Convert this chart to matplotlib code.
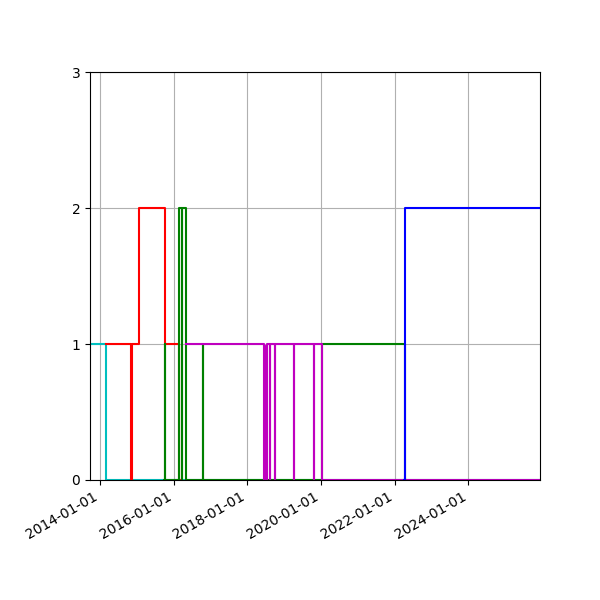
import pandas as pd
import matplotlib.pyplot as plt
import matplotlib.dates as mdates

cyan_t = ['2013-09-01', '2014-03-01', '2026-01-01']
cyan_v = [1, 0, 0]

red_t = ['2014-03-01', '2014-11-04', '2014-11-10', '2015-01-23', '2015-10-07', '2016-02-23', '2016-03-01']
red_v = [1, 0, 1, 2, 1, 0, 0]

green_t = ['2015-10-01', '2015-10-07', '2015-10-09', '2016-02-23', '2016-03-22', '2016-03-24', '2016-03-26',
           '2016-05-02', '2016-10-14', '2016-10-18', '2020-01-10', '2022-04-12', '2022-04-20']
green_v = [0, 1, 0, 2, 0, 2, 2, 0, 1, 0, 1, 0, 0]

mag_t = ['2016-05-02', '2018-06-14', '2018-07-14', '2018-08-10', '2018-08-16', '2018-09-28', '2018-10-04',
         '2019-04-05', '2019-04-11', '2019-10-20', '2019-10-26', '2020-01-10', '2026-01-01']
mag_v = [1, 0, 1, 0, 1, 0, 1, 0, 1, 0, 1, 0, 0]

blue_t = ['2022-04-01', '2022-04-12', '2026-01-01']
blue_v = [0, 2, 2]

fig, ax = plt.subplots(figsize=(6, 6), dpi=100)
fig.subplots_adjust(left=0.15, right=0.9, top=0.88, bottom=0.2)
for t, v, c in [(cyan_t, cyan_v, 'c'), (red_t, red_v, 'r'), (green_t, green_v, 'g'),
                (mag_t, mag_v, 'm'), (blue_t, blue_v, 'b')]:
    ax.plot(pd.to_datetime(t), v, color=c, drawstyle='steps-post', lw=1.5)

# dense magenta block around mid 2018
ax.axvspan(pd.Timestamp('2018-06-14'), pd.Timestamp('2018-07-10'), ymin=0, ymax=1/3, color='m', lw=0)

ax.set_xlim(pd.Timestamp('2013-09-24'), pd.Timestamp('2025-12-10'))
ax.set_ylim(0, 3)
ax.set_yticks([0, 1, 2, 3])
ax.xaxis.set_major_locator(mdates.YearLocator(2))
ax.xaxis.set_major_formatter(mdates.DateFormatter('%Y-%m-%d'))
fig.autofmt_xdate()
ax.grid(True)
plt.savefig('out.png')
